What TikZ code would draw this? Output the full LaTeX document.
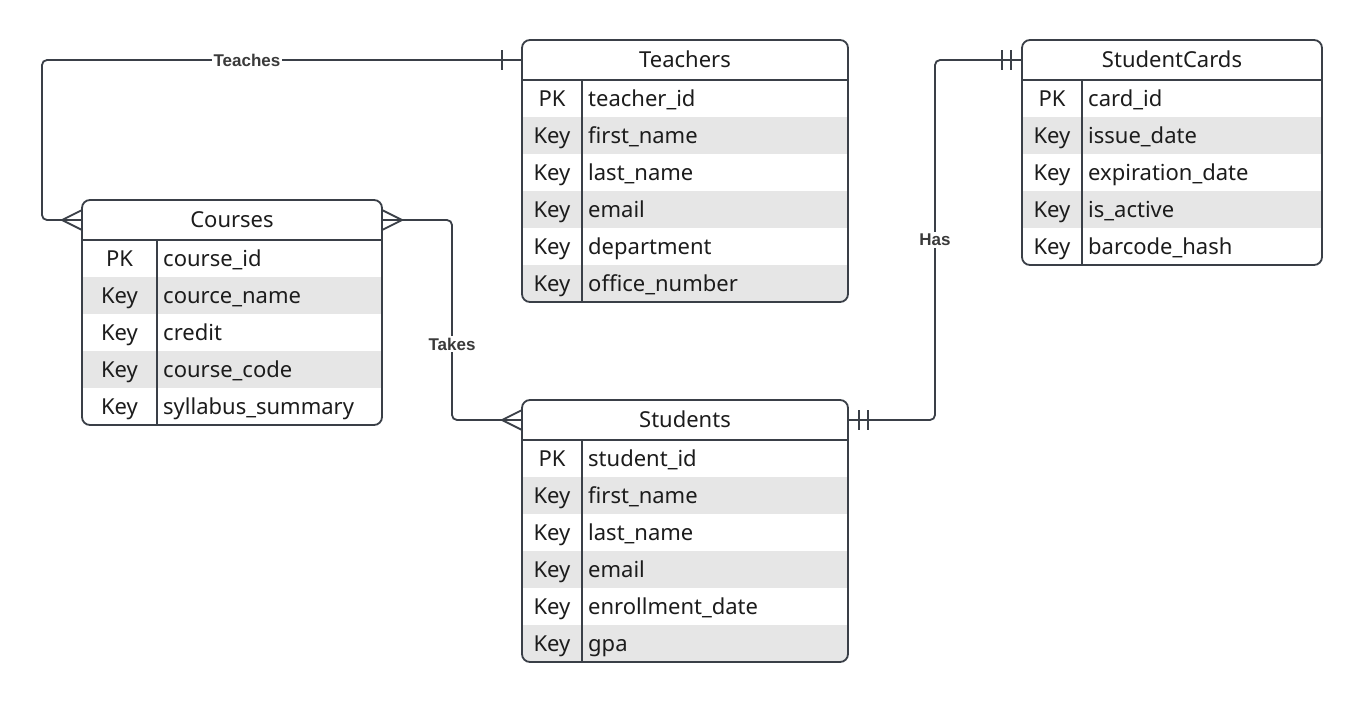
\documentclass[tikz,border=0pt]{standalone}
\usepackage{fontspec}
\setmainfont{Noto Sans}
\newfontfamily\lblfont{Liberation Sans}
\definecolor{edge}{HTML}{3A3F47}
\definecolor{rowgray}{HTML}{E6E6E6}
\definecolor{ink}{HTML}{1C1C1C}
\definecolor{lblink}{HTML}{3A3A3A}
\tikzset{
  conn/.style={draw=edge, line width=1.8pt},
  tblline/.style={draw=edge, line width=1.8pt},
  tblborder/.style={draw=edge, line width=1.8pt, rounded corners=8pt},
  celltext/.style={font=\fontsize{22}{26}\selectfont, text=ink, inner sep=0pt},
  rellabel/.style={font=\lblfont\bfseries\fontsize{17}{20}\selectfont, text=lblink, fill=white, inner sep=2pt},
}
% #1 name, #2 x, #3 y, #4 width, #5 key col width, #6 rows, #7 title, #8 list
\newcommand{\ertable}[8]{%
  \pgfmathsetmacro{\tabh}{40+37*#6}
  \node[anchor=north west, minimum width=#4pt, minimum height=\tabh pt, inner sep=0pt, outer sep=0pt] (#1) at (#2,#3) {};
  \node[anchor=north west, minimum width=#4pt, minimum height=40pt, inner sep=0pt, outer sep=0pt] (#1-h) at (#2,#3) {};
  \begin{scope}
    \clip[rounded corners=8pt] (#1.north west) rectangle (#1.south east);
    \foreach \kk/\ff [count=\i] in {#8} {
      \pgfmathsetmacro{\rt}{#3+40+37*(\i-1)}
      \ifodd\i\else \fill[rowgray] (#2,\rt) rectangle ++(#4,37); \fi
    }
  \end{scope}
  \node[celltext, anchor=base] (#1-title) at (#2+#4/2, #3+27.5) {#7};
  \foreach \kk/\ff [count=\i] in {#8} {
    \pgfmathsetmacro{\rb}{#3+40+37*(\i-1)+26}
    \node[celltext, anchor=base] at (#2+#5/2, \rb) {\kk};
    \node[celltext, anchor=base west] at (#2+#5+6, \rb) {\ff};
  }
  \draw[tblline] (#1-h.south west) -- (#1-h.south east);
  \draw[tblline] (#2+#5, #3+40) -- (#2+#5, #3+\tabh);
  \draw[tblborder] (#1.north west) rectangle (#1.south east);
}
\begin{document}
\begin{tikzpicture}[x=1pt, y=-1pt]
  \fill[white] (0,0) rectangle (1362,702);
  \useasboundingbox (0,0) rectangle (1362,702);

  \ertable{teachers}{522}{40}{326}{60}{6}{Teachers}{PK/teacher\_id, Key/first\_name, Key/last\_name, Key/email, Key/department, Key/office\_number}
  \ertable{courses}{82}{200}{300}{75}{5}{Courses}{PK/course\_id, Key/cource\_name, Key/credit, Key/course\_code, Key/syllabus\_summary}
  \ertable{cards}{1022}{40}{300}{60}{5}{StudentCards}{PK/card\_id, Key/issue\_date, Key/expiration\_date, Key/is\_active, Key/barcode\_hash}
  \ertable{students}{522}{400}{326}{60}{6}{Students}{PK/student\_id, Key/first\_name, Key/last\_name, Key/email, Key/enrollment\_date, Key/gpa}

  % connectors
  \draw[conn, rounded corners=5pt] (teachers-h.west) -| ([xshift=-40pt]courses-h.west) -- (courses-h.west);
  \draw[conn, rounded corners=5pt] (courses-h.east) -| ([xshift=-70pt]students-h.west) -- (students-h.west);
  \draw[conn, rounded corners=5pt] (students-h.east) -| ([xshift=-87pt]cards-h.west) -- (cards-h.west);

  % one (Teachers end)
  \draw[conn] ([xshift=-20pt, yshift=10pt]teachers-h.west) -- ([xshift=-20pt, yshift=-10pt]teachers-h.west);
  % many (Courses left)
  \draw[conn] ([yshift=10pt]courses-h.west) -- ([xshift=-20pt]courses-h.west) -- ([yshift=-10pt]courses-h.west);
  % many (Courses right)
  \draw[conn] ([yshift=10pt]courses-h.east) -- ([xshift=20pt]courses-h.east) -- ([yshift=-10pt]courses-h.east);
  % many (Students left)
  \draw[conn] ([yshift=10pt]students-h.west) -- ([xshift=-20pt]students-h.west) -- ([yshift=-10pt]students-h.west);
  % one and only one (Students right, StudentCards left)
  \foreach \d in {11,20} {
    \draw[conn] ([xshift=\d pt, yshift=10pt]students-h.east) -- ([xshift=\d pt, yshift=-10pt]students-h.east);
    \draw[conn] ([xshift=-\d pt, yshift=10pt]cards-h.west) -- ([xshift=-\d pt, yshift=-10pt]cards-h.west);
  }

  % labels
  \node[rellabel] (lteaches) at (247,60) {Teaches};
  \node[rellabel] (ltakes) at (452,344) {Takes};
  \node[rellabel] (lhas) at (935,240) {Has};
\end{tikzpicture}
\end{document}
